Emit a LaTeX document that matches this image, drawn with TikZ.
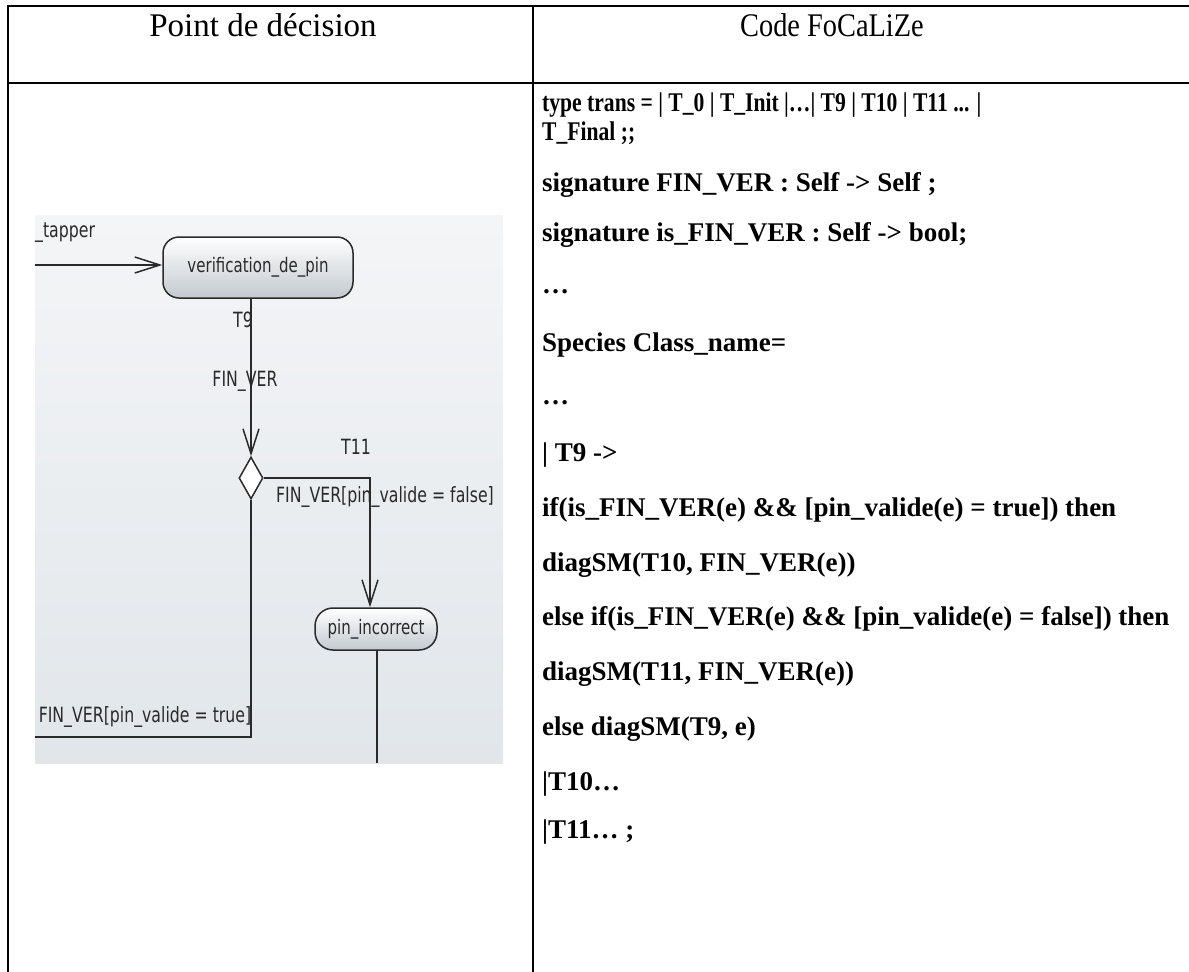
\documentclass[tikz,border=0pt]{standalone}
\usepackage{fontspec}
\setmainfont{Liberation Serif}
\newfontfamily\headfont{Liberation Serif}
\newfontfamily\headnarrowfont[FakeStretch=0.86]{Liberation Serif}
\newfontfamily\codefont{Liberation Serif}
\newfontfamily\umlfont[FakeStretch=0.75]{DejaVu Sans}
\usetikzlibrary{arrows.meta,shapes.geometric,calc}
\definecolor{shottop}{HTML}{F4F5F7}
\definecolor{shotbot}{HTML}{E1E6EA}
\definecolor{umlink}{HTML}{2A2A2A}
\definecolor{statebot}{HTML}{C3C9CF}
\newcommand{\tightline}[1]{\scalebox{0.8}[1]{#1}}
\tikzset{
  tabline/.style={line width=2.2pt, line cap=rect},
  headtext/.style={anchor=base, inner sep=0pt},
  codeline/.style={font=\codefont\bfseries\fontsize{27}{27}\selectfont, anchor=base west, inner sep=0pt},
  umlline/.style={draw=umlink, line width=1.5pt},
  umlarrow/.style={-{Straight Barb[length=25pt,width=16pt,line width=1.5pt]}},
  umlstate/.style={draw=umlink, line width=1.5pt, rounded corners=16pt, top color=white, bottom color=statebot,
    font=\umlfont\fontsize{20}{20}\selectfont, text=umlink, inner sep=0pt},
  umldec/.style={diamond, draw=umlink, line width=1.5pt, fill=white, inner sep=0pt, minimum width=24pt, minimum height=42pt},
  umllabel/.style={font=\umlfont\fontsize{21}{21}\selectfont, text=umlink, inner sep=0pt},
}
\begin{document}
\begin{tikzpicture}[x=1pt,y=-1pt]
\useasboundingbox (0,0) rectangle (1189,972);

% table rules
\draw[tabline] (8,6) -- (1189,6);
\draw[tabline] (8,83) -- (1189,83);
\draw[tabline] (8,6) -- (8,972);
\draw[tabline] (533,6) -- (533,972);

% column headings
\node[headtext, font=\headfont\fontsize{33}{33}\selectfont] (h1) at (263,36) {Point de décision};
\node[headtext, font=\headnarrowfont\fontsize{33}{33}\selectfont] (h2) at (832,36) {Code FoCaLiZe};

% state machine excerpt
\path[top color=shottop, bottom color=shotbot] (35,215) rectangle (503,763);

\node[umlstate, minimum width=190pt, minimum height=61pt] (vdp) at (258,267.5) {verification\_de\_pin};
\coordinate (tin) at (35,265);
\node[umllabel, anchor=west] (tap) at (35,233) {\_tapper};
\draw[umlline, umlarrow] (tin) -- (tin -| vdp.west);

\node[umldec] (dec) at (251,478) {};
\draw[umlline, umlarrow] (dec.north |- vdp.south) -- (dec.north);
\node[umllabel] (lt9) at (243,320) {T9};
\node[umllabel] (lfv) at (245,381) {FIN\_VER};

\node[umlstate, minimum width=122pt, minimum height=42pt, rounded corners=18pt] (pin) at (376,629) {pin\_incorrect};
\coordinate (fk) at (370,478);
\draw[umlline, umlarrow] (dec.east) -- (fk) -- (fk |- pin.north);
\node[umllabel] (lt11) at (356,447) {T11};
\node[umllabel] (lfalse) at (385,497) {FIN\_VER[pin\_valide = false]};

\coordinate (pout) at (377,763);
\draw[umlline] (pout |- pin.south) -- (pout);

\coordinate (tk) at (251,737);
\coordinate (tout) at (35,737);
\draw[umlline] (dec.south) -- (tk) -- (tout);
\node[umllabel] (ltrue) at (145,717) {FIN\_VER[pin\_valide = true]};

% FoCaLiZe code
\node[codeline] (c1)  at (542,111) {\tightline{type trans = | T\_0 | T\_Init |…| T9 | T10 | T11 ... |}};
\node[codeline] (c2)  at (542,140) {\tightline{T\_Final ;;}};
\node[codeline] (c3)  at (542,191) {signature FIN\_VER : Self -> Self ;};
\node[codeline] (c4)  at (542,241) {signature is\_FIN\_VER : Self -> bool;};
\node[codeline] (c5)  at (542,293) {…};
\node[codeline] (c6)  at (542,351) {Species Class\_name=};
\node[codeline] (c7)  at (542,404) {…};
\node[codeline] (c8)  at (542,461) {| T9 ->};
\node[codeline] (c9)  at (542,516) {if(is\_FIN\_VER(e) \&\& [pin\_valide(e) = true]) then};
\node[codeline] (c10) at (542,571) {diagSM(T10, FIN\_VER(e))};
\node[codeline] (c11) at (542,625) {else if(is\_FIN\_VER(e) \&\& [pin\_valide(e) = false]) then};
\node[codeline] (c12) at (542,680) {diagSM(T11, FIN\_VER(e))};
\node[codeline] (c13) at (542,735) {else diagSM(T9, e)};
\node[codeline] (c14) at (542,790) {|T10…};
\node[codeline] (c15) at (542,838) {|T11… ;};
\end{tikzpicture}
\end{document}
